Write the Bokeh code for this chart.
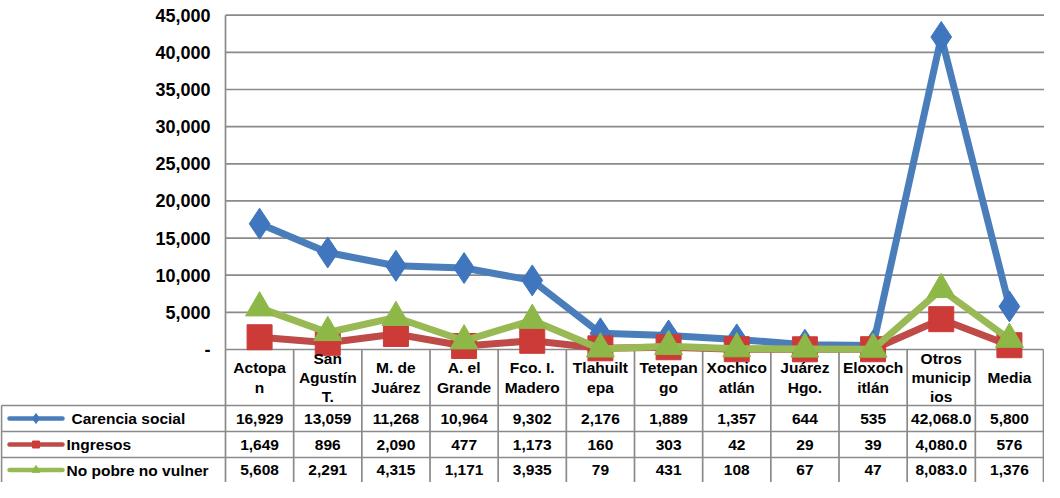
from bokeh.plotting import figure
from bokeh.models import Range1d
from bokeh.core.properties import value
from bokeh.embed import file_html
from bokeh.resources import INLINE

# ---------------- data ----------------
categories = ["Actopan", "San Agustín T.", "M. de Juárez", "A. el Grande", "Fco. I. Madero",
              "Tlahuiltepa", "Tetepango", "Xochicoatlán", "Juárez Hgo.", "Eloxochitlán",
              "Otros municipios", "Media"]
header_labels = ["Actopa\nn", "San\nAgustín\nT.", "M. de\nJuárez", "A. el\nGrande", "Fco. I.\nMadero",
                 "Tlahuilt\nepa", "Tetepan\ngo", "Xochico\natlán", "Juárez\nHgo.", "Eloxoch\nitlán",
                 "Otros\nmunicip\nios", "Media"]
series_names = ["Carencia social", "Ingresos", "No pobre  no vulner"]
carencia = [16929, 13059, 11268, 10964, 9302, 2176, 1889, 1357, 644, 535, 42068.0, 5800]
ingresos = [1649, 896, 2090, 477, 1173, 160, 303, 42, 29, 39, 4080.0, 576]
no_pobre = [5608, 2291, 4315, 1171, 3935, 79, 431, 108, 67, 47, 8083.0, 1376]
decimals = [0, 0, 0, 0, 0, 0, 0, 0, 0, 0, 1, 0]
y_ticks = [0, 5000, 10000, 15000, 20000, 25000, 30000, 35000, 40000, 45000]
y_tick_labels = ["-", "5,000", "10,000", "15,000", "20,000", "25,000", "30,000", "35,000", "40,000", "45,000"]

# ---------------- layout constants (pixels) ----------------
W, H = 1044, 482
AX = 225.0                      # x pixel of value axis
CW = (W - 1 - AX) / 12          # column width
Y0 = 349.0                      # pixel of value 0
PPU = (Y0 - 14.7) / 45000       # pixels per unit

def xd(px):
    return (px - AX) / CW

y_top = Y0 / PPU
y_bot = -(H - Y0) / PPU

p = figure(width=W, height=H, output_backend="svg", toolbar_location=None,
           x_range=Range1d(xd(0), xd(W)), y_range=Range1d(y_bot, y_top),
           min_border=0, outline_line_color=None)
p.extra_y_ranges = {"tbl": Range1d(H, 0)}
p.xaxis.visible = False
p.yaxis.visible = False
p.xgrid.visible = False
p.ygrid.visible = False
p.background_fill_color = "white"

FONT = value("Liberation Sans")
GRID = "#8a8a8a"
n = len(categories)
xc = [i + 0.5 for i in range(n)]

# gridlines
gt = [t for t in y_ticks if t > 0]
p.segment(x0=[0] * len(gt), x1=[xd(W)] * len(gt), y0=gt, y1=gt, line_color=GRID, line_width=1.7)

# y tick labels
p.text(x=[xd(210)] * len(y_ticks), y=y_ticks, text=y_tick_labels, text_align="right",
       text_baseline="middle", text_font=FONT, text_font_style="bold", text_font_size="18px",
       text_color="black")

# table grid
rows_top = [405.0, 431.0, 457.0]
row_mid = [418.0, 444.0, 469.5]
header_mid = 377.0
p.segment(x0=[0], x1=[0], y0=[y_ticks[-1]], y1=[0], line_color=GRID, line_width=1.7)
p.segment(x0=list(range(n + 1)), x1=list(range(n + 1)), y0=[0] * (n + 1), y1=[y_bot] * (n + 1),
          line_color=GRID, line_width=1.7)
p.segment(x0=[0], x1=[n], y0=[0], y1=[0], line_color=GRID, line_width=1.7)
p.segment(x0=[xd(1)] * 3, x1=[n] * 3, y0=rows_top, y1=rows_top, line_color=GRID, line_width=1.7,
          y_range_name="tbl")
p.segment(x0=[xd(1)], x1=[xd(1)], y0=[rows_top[0]], y1=[H], line_color=GRID, line_width=1.7,
          y_range_name="tbl")

# series
series = [
    (carencia, "#4a7ebb", "#3f76bd", "diamond", 31),
    (ingresos, "#be4b48", "#cc3b37", "square", 25),
    (no_pobre, "#98b954", "#8db848", "triangle", 28),
]
for vals, lc, fc, mk, sz in series:
    p.line(xc, vals, line_color=lc, line_width=7, line_join="round")
    p.scatter(xc, vals, marker=mk, size=sz, fill_color=fc, line_color=fc, line_width=1)

# header labels
p.text(x=xc, y=[header_mid] * n, text=header_labels, text_align="center", text_baseline="middle",
       text_font=FONT, text_font_style="bold", text_font_size="15.5px", text_color="black",
       text_line_height=1.13, y_range_name="tbl")

# table rows
for r, ((vals, lc, fc, mk, sz), name) in enumerate(zip(series, series_names)):
    ym = row_mid[r]
    labels = [f"{v:,.{d}f}" for v, d in zip(vals, decimals)]
    p.text(x=xc, y=[ym] * n, text=labels, text_align="center", text_baseline="middle",
           text_font=FONT, text_font_style="bold", text_font_size="15.5px", text_color="black",
           y_range_name="tbl")
    p.line([xd(9), xd(62)], [ym, ym], line_color=lc, line_width=4.5, line_cap="round",
           y_range_name="tbl")
    p.scatter([xd(35.5)], [ym], marker=mk, size={"diamond": 10, "square": 7, "triangle": 8}[mk],
              fill_color=fc, line_color=fc, y_range_name="tbl")
    p.text(x=[xd(71 if r == 0 else 66)], y=[ym], text=[name], text_align="left",
           text_baseline="middle", text_font=FONT, text_font_style="bold", text_font_size="15.5px",
           text_color="black", y_range_name="tbl")

open("out.html", "w").write(file_html(p, INLINE))
